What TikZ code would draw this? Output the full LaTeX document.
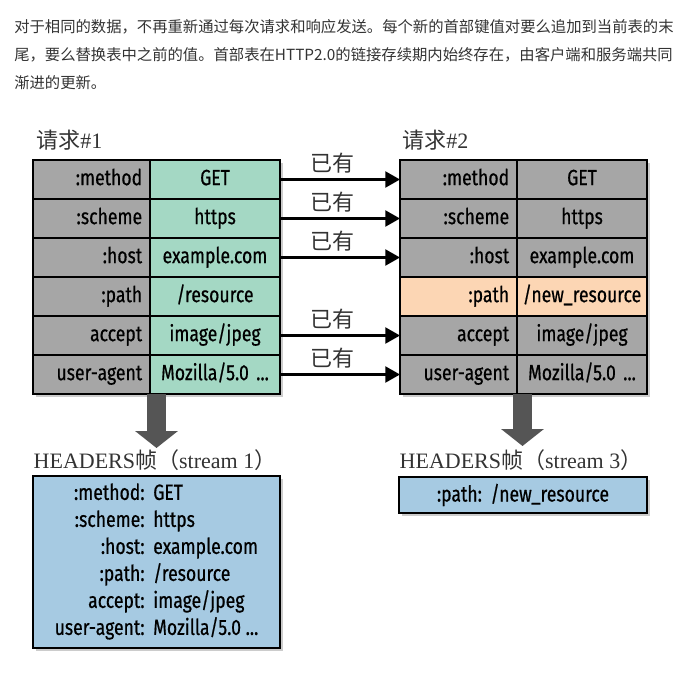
\documentclass[tikz,border=0pt]{standalone}
\usepackage{fontspec}
\setmainfont{Liberation Serif}
\newfontfamily\cjk{Noto Sans CJK SC}
\newfontfamily\condsans[FakeStretch=0.8,FakeBold=0.6]{Fira Sans}
\usetikzlibrary{arrows.meta, positioning, shadows, backgrounds}

\definecolor{keygray}{RGB}{166,166,166}
\definecolor{valgreen}{RGB}{164,216,196}
\definecolor{newpeach}{RGB}{252,214,180}
\definecolor{hdrblue}{RGB}{166,202,226}
\definecolor{fatgray}{RGB}{85,85,85}
\definecolor{txtgray}{RGB}{51,51,51}

\tikzset{
  cell/.style={draw=black, line width=1.5pt, minimum height=29.25pt, inner sep=0pt, outer sep=0pt,
    text height=12pt, text depth=3.5pt,
    font=\condsans\fontsize{16.5pt}{18pt}\selectfont},
  keycell/.style={cell, fill=keygray, minimum width=87.75pt, text width=76pt, align=right},
  valcell/.style={cell, fill=valgreen, minimum width=97.5pt, text width=95pt, align=center},
  frame/.style={draw=black, line width=2.2pt},
  tblshadow/.style={fill=white, drop shadow={opacity=0.4, shadow xshift=2pt, shadow yshift=-2.5pt}},
  have/.style={line width=1.6pt, -{Triangle[length=11pt,width=12pt]}},
  havelbl/.style={pos=0.44, above=4pt, inner sep=0pt, text=txtgray, font=\cjk\fontsize{16.5pt}{18pt}\selectfont},
  titletxt/.style={anchor=west, inner sep=0pt, text=txtgray, font=\fontsize{16.5pt}{18pt}\selectfont},
  fatarrow/.style={draw=fatgray, line width=14.25pt, -{Triangle[length=12.75pt,width=31.5pt]}},
  hdrbox/.style={draw=black, line width=2pt, fill=hdrblue, inner sep=0pt,
    font=\condsans\fontsize{16.5pt}{20.25pt}\selectfont,
    drop shadow={opacity=0.4, shadow xshift=2pt, shadow yshift=-2.5pt}},
  para/.style={anchor=north west, inner sep=0pt, align=left, text=txtgray,
    font=\cjk\fontsize{11.5pt}{21pt}\selectfont}
}

\begin{document}
\begin{tikzpicture}[x=0.75pt,y=-0.75pt]
  \useasboundingbox (0,0) rectangle (680,674);

  % intro text
  \node[para] (intro) at (14,19) {对于相同的数据，不再重新通过每次请求和响应发送。每个新的首部键值对要么追加到当前表的末\\
    尾，要么替换表中之前的值。首部表在HTTP2.0的链接存续期内始终存在，由客户端和服务端共同\\
    渐进的更新。};

  % request 1
  \node[titletxt] (req1) at (36,140) {{\cjk 请求}\#1};
  \node[keycell] (k1m) at (91.5,179.5) {:method};
  \node[valcell] (v1m) at (215,179.5) {GET};
  \node[keycell] (k1s) at (91.5,218.5) {:scheme};
  \node[valcell] (v1s) at (215,218.5) {https};
  \node[keycell] (k1h) at (91.5,257.5) {:host};
  \node[valcell] (v1h) at (215,257.5) {example.com};
  \node[keycell] (k1p) at (91.5,296.5) {:path};
  \node[valcell] (v1p) at (215,296.5) {/resource};
  \node[keycell] (k1a) at (91.5,335.5) {accept};
  \node[valcell] (v1a) at (215,335.5) {image/jpeg};
  \node[keycell] (k1u) at (91.5,374.5) {user-agent};
  \node[valcell] (v1u) at (215,374.5) {Mozilla/5.0 ...};
  \draw[frame] (k1m.north west) rectangle (v1u.south east);

  % request 2
  \node[titletxt] (req2) at (402,140) {{\cjk 请求}\#2};
  \node[keycell] (k2m) at (458.5,179.5) {:method};
  \node[valcell, fill=keygray] (v2m) at (582,179.5) {GET};
  \node[keycell] (k2s) at (458.5,218.5) {:scheme};
  \node[valcell, fill=keygray] (v2s) at (582,218.5) {https};
  \node[keycell] (k2h) at (458.5,257.5) {:host};
  \node[valcell, fill=keygray] (v2h) at (582,257.5) {example.com};
  \node[keycell, fill=newpeach] (k2p) at (458.5,296.5) {:path};
  \node[valcell, fill=newpeach] (v2p) at (582,296.5) {/new\_resource};
  \node[keycell] (k2a) at (458.5,335.5) {accept};
  \node[valcell, fill=keygray] (v2a) at (582,335.5) {image/jpeg};
  \node[keycell] (k2u) at (458.5,374.5) {user-agent};
  \node[valcell, fill=keygray] (v2u) at (582,374.5) {Mozilla/5.0 ...};
  \draw[frame] (k2m.north west) rectangle (v2u.south east);

  \begin{scope}[on background layer]
    \path[tblshadow] (k1m.north west) rectangle (v1u.south east);
    \path[tblshadow] (k2m.north west) rectangle (v2u.south east);
  \end{scope}

  % indexed entries
  \draw[have] (v1m.east) -- node[havelbl] (e1) {已有} (k2m.west);
  \draw[have] (v1s.east) -- node[havelbl] (e2) {已有} (k2s.west);
  \draw[have] (v1h.east) -- node[havelbl] (e3) {已有} (k2h.west);
  \draw[have] (v1a.east) -- node[havelbl] (e4) {已有} (k2a.west);
  \draw[have] (v1u.east) -- node[havelbl] (e5) {已有} (k2u.west);

  % HEADERS frames
  \coordinate (f1s) at (156.5,394);
  \coordinate (f1e) at (156.5,448);
  \draw[fatarrow] (f1s) -- (f1e);
  \node[text=txtgray, inner sep=0pt, font=\fontsize{16.5pt}{18pt}\selectfont] (lbl1) at (155,460)
    {HEADERS{\cjk 帧（}stream 1{\cjk ）}};
  \node[hdrbox, minimum width=185.25pt, minimum height=129pt] (hdr1) at (156.5,562) {%
    \begin{tabular}{@{}r@{\hspace{6.5pt}}l@{}}
      :method: & GET\\
      :scheme: & https\\
      :host: & example.com\\
      :path: & /resource\\
      accept: & image/jpeg\\
      user-agent: & Mozilla/5.0 ...
    \end{tabular}};

  \coordinate (f3s) at (522.5,394);
  \coordinate (f3e) at (522.5,446);
  \draw[fatarrow] (f3s) -- (f3e);
  \node[text=txtgray, inner sep=0pt, font=\fontsize{16.5pt}{18pt}\selectfont] (lbl3) at (521,460)
    {HEADERS{\cjk 帧（}stream 3{\cjk ）}};
  \node[hdrbox, minimum width=186pt, minimum height=27pt] (hdr3) at (523,495)
    {:path:\hspace{6.5pt}/new\_resource};
\end{tikzpicture}
\end{document}
